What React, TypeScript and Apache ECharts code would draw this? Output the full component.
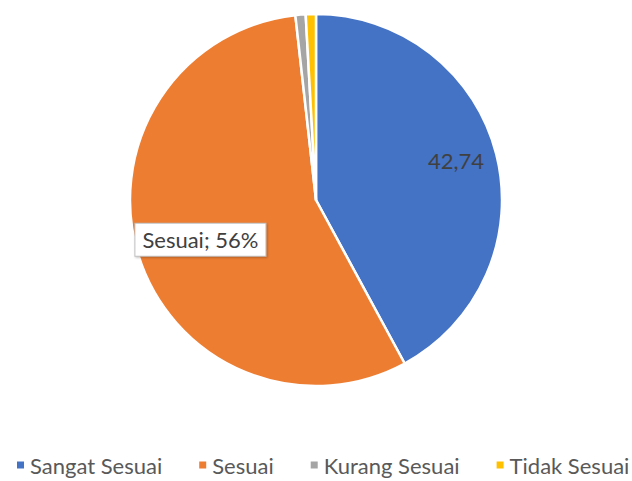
import React, { useEffect, useRef } from "react";
import * as echarts from "echarts";

const categories = ["Sangat Sesuai", "Sesuai", "Kurang Sesuai", "Tidak Sesuai"];
const values = [42.74, 57.0, 0.9, 0.9];
const colors = ["#4472C4", "#ED7D31", "#A5A5A5", "#FFC000"];

export default function App() {
  const ref = useRef<HTMLDivElement>(null);
  useEffect(() => {
    document.body.style.margin = "0";
    const chart = echarts.init(ref.current!, null, { renderer: "svg" });
    const font = "Lato, 'Open Sans', sans-serif";
    chart.setOption({
      animation: false,
      color: colors,
      legend: {
        bottom: 0,
        left: 15,
        right: 0,
        padding: [5, 0, 5, 0],
        icon: "rect",
        itemWidth: 9,
        itemHeight: 9,
        itemGap: 35,
        textStyle: { color: "#595959", fontSize: 22, fontFamily: font },
        data: categories,
      },
      series: [
        {
          type: "pie",
          center: [316, 200],
          radius: 186,
          startAngle: 90,
          clockwise: true,
          itemStyle: { borderColor: "#fff", borderWidth: 2.5 },
          labelLine: { show: false },
          emphasis: { disabled: true },
          data: categories.map((c, i) => {
            const d: any = { name: c, value: values[i] };
            if (i === 0) {
              d.label = {
                show: true,
                position: "inside",
                formatter: (p: any) => String(p.value).replace(".", ","),
                color: "#404040",
                fontSize: 22,
                fontFamily: font,
                offset: [47, -16],
              };
            } else if (i === 1) {
              d.label = {
                show: true,
                position: "inside",
                formatter: (p: any) => `${p.name}; ${Math.round(p.percent)}%`,
                color: "#404040",
                fontSize: 22,
                fontFamily: font,
                backgroundColor: "#fff",
                borderColor: "#BFBFBF",
                borderWidth: 1,
                padding: [5, 7],
                shadowColor: "rgba(0,0,0,0.25)",
                shadowBlur: 2,
                shadowOffsetX: 1,
                shadowOffsetY: 1,
                offset: [-24, 11],
              };
            } else {
              d.label = { show: false };
            }
            return d;
          }),
        },
      ],
    });
    return () => chart.dispose();
  }, []);
  return <div ref={ref} style={{ width: 632, height: 481 }} />;
}
